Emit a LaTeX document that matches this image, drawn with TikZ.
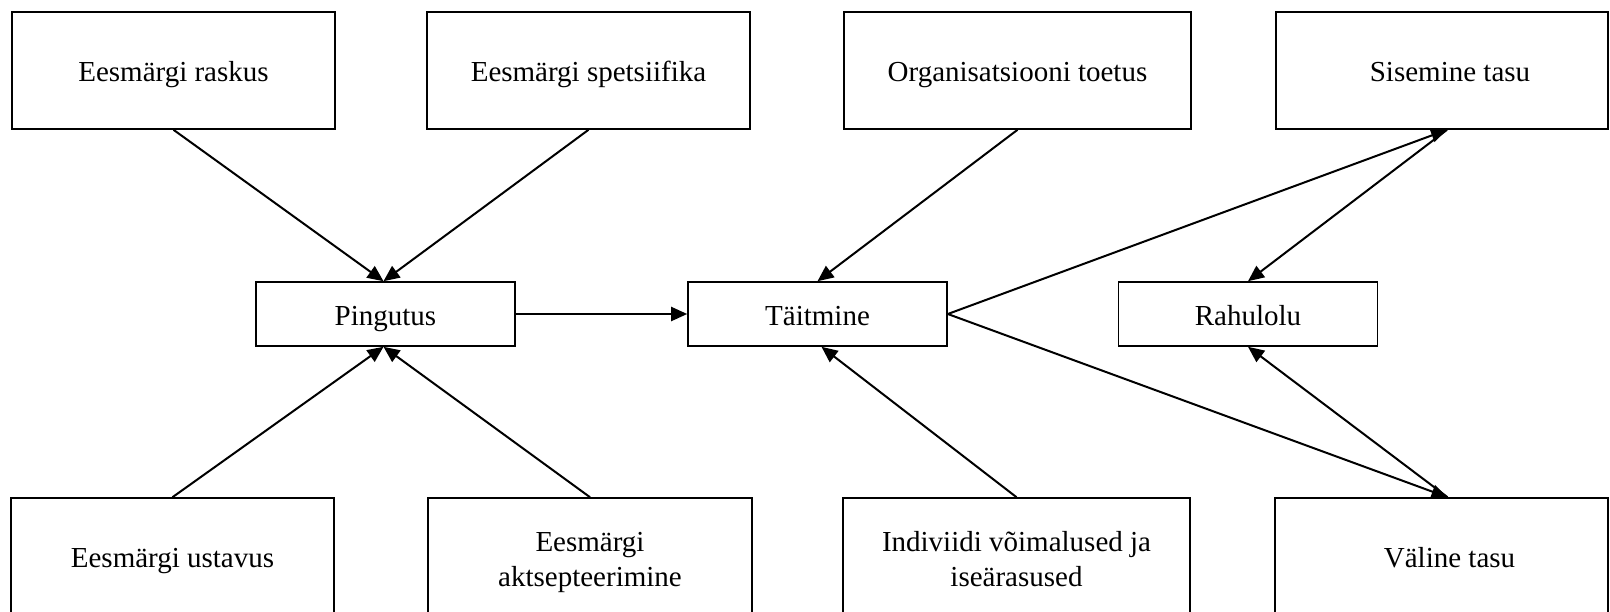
\documentclass[tikz,border=0pt]{standalone}
\usepackage{fontspec}
\setmainfont{Liberation Serif}
\usetikzlibrary{arrows.meta}
\tikzset{
  box/.style={draw=black, line width=0.8pt, fill=white, inner sep=0pt,
    font=\fontsize{14.5}{17.5}\selectfont, align=center},
  one/.style={text height=14pt, text depth=3pt},
  big/.style={box, minimum height=58.5pt},
  mid/.style={box, one, minimum width=129.5pt, minimum height=32pt},
  conn/.style={line width=1pt, -{Triangle[length=8pt,width=7pt]}},
}
\newcommand{\topstrut}{\rule{0pt}{15.5pt}}
\newcommand{\botstrut}{\rule[-3.5pt]{0pt}{3.5pt}}
\begin{document}
\begin{tikzpicture}[x=0.5pt, y=-0.5pt]
\useasboundingbox (0,0) rectangle (1610,611);
\clip (0,0) rectangle (1610,611);
% top row
\node[big, one, minimum width=161.5pt] (r1) at (173.5,70.5) {Eesmärgi raskus};
\node[big, one, minimum width=161.5pt] (r2) at (588.5,70.5) {Eesmärgi spetsiifika};
\node[big, one, minimum width=173.5pt] (r3) at (1017.5,70.5) {Organisatsiooni toetus};
\node[big, one, minimum width=166pt] (r4) at (1442,70.5) {\hspace*{8pt}Sisemine tasu};
% middle row
\node[mid] (p) at (385.5,314) {Pingutus};
\node[mid] (t) at (817.5,314) {Täitmine};
\node[mid] (s) at (1248,314) {Rahulolu};
% bottom row
\node[big, one, minimum width=161.5pt] (b1) at (172.5,556.5) {Eesmärgi ustavus};
\node[big, minimum width=162pt] (b2) at (590,556.5) {\topstrut Eesmärgi\\aktsepteerimine\botstrut};
\node[big, minimum width=173.5pt] (b3) at (1016.5,556.5) {\topstrut Indiviidi võimalused ja\\iseärasused\botstrut};
\node[big, one, minimum width=166.5pt] (b4) at (1441.5,556.5) {\hspace*{8pt}Väline tasu};
% connectors
\draw[conn] (r1.south) -- ([xshift=-1pt]p.north);
\draw[conn] (r2.south) -- ([xshift=-1pt]p.north);
\draw[conn] (b1.north) -- ([xshift=-1pt]p.south);
\draw[conn] (b2.north) -- ([xshift=-1pt]p.south);
\draw[conn] (p.east) -- (t.west);
\draw[conn] (r3.south) -- (t.north);
\draw[conn] (b3.north) -- ([xshift=2pt]t.south);
\draw[conn] (t.east) -- ([xshift=2.5pt]r4.south);
\draw[conn] (t.east) -- ([xshift=3pt]b4.north);
\draw[conn] ([xshift=2.5pt]r4.south) -- (s.north);
\draw[conn] ([xshift=3pt]b4.north) -- (s.south);
\end{tikzpicture}
\end{document}
